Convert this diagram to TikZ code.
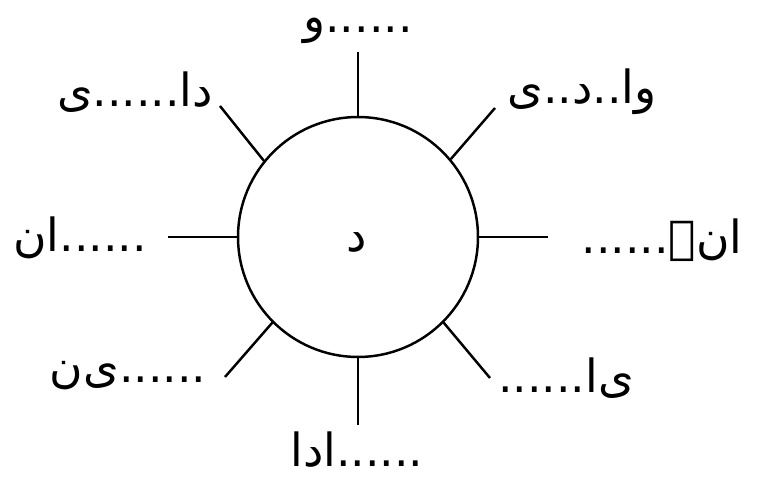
\documentclass[tikz,border=0pt]{standalone}
\usepackage{fontspec}
\newfontfamily\urdufont[Script=Arabic]{DejaVu Sans}
\TeXXeTstate=1
\usetikzlibrary{positioning}

\begin{document}
\begin{tikzpicture}[x=0.02cm,y=-0.02cm,line width=1.4pt,
  lbl/.style={font=\urdufont\fontsize{26}{30}\selectfont, inner sep=0pt}]
\useasboundingbox (0,0) rectangle (775,482);
\node[draw, circle, minimum size=4.8cm, inner sep=0pt] (rim) at (358,237) {};
\node[lbl] (mid) at (357,242) {\beginR د\endR};
\foreach \n/\a/\x/\y in {t/90/358/52, tr/40.5/495/108, r/0/548/237, br/-45/490/378,
    b/-90/358/425, bl/225.7/225/377, l/180/168/237, tl/141/220/106} {
  \coordinate (e\n) at (\x,\y);
  \draw (rim.\a) -- (e\n);
}
% blanks round the letter
\node[lbl] (wt) at (358,31) {\beginR ......و\endR};
\node[lbl] (wtr) at (582,92) {\beginR وا..د..ی\endR};
\node[lbl] (wr) at (662,240) {\beginR ان‌ے......\endR};
\node[lbl] (wbr) at (566,378) {\beginR ی‌ا......\endR};
\node[lbl] (wb) at (357,450) {\beginR ......ادا\endR};
\node[lbl] (wbl) at (128,376) {\beginR ......ی‌ن\endR};
\node[lbl] (wl) at (80,238) {\beginR ......ان\endR};
\node[lbl] (wtl) at (135,92) {\beginR دا......ی\endR};
\end{tikzpicture}
\end{document}
